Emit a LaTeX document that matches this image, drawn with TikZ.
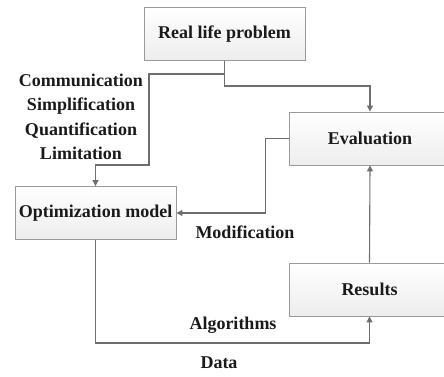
\documentclass[tikz,border=0pt]{standalone}
\usepackage{fontspec}
\setmainfont{Liberation Serif}
\usetikzlibrary{arrows.meta}
\definecolor{linegray}{HTML}{6E6E6E}
\definecolor{boxborder}{HTML}{9A9A9A}
\definecolor{txt}{HTML}{1A1A1A}
\begin{document}
\begin{tikzpicture}[x=1pt,y=-1pt,
  box/.style={draw=boxborder, line width=0.9pt, top color=white, bottom color=gray!14,
    minimum width=161pt, minimum height=53pt, inner sep=0pt, text=txt,
    font=\fontsize{18}{22}\selectfont\bfseries},
  lbl/.style={text=txt, inner sep=0pt, align=center,
    font=\fontsize{18}{24.5}\selectfont\bfseries},
  conn/.style={draw=linegray, line width=1.1pt,
    -{Triangle[width=6pt,length=6pt]}}]
\useasboundingbox (0,0) rectangle (444,376);
\begin{scope}
\clip (0,0) rectangle (444,376);
\node[box] (rlp) at (224.5,34) {Real life problem};
\node[box] (eval) at (370,138.5) {Evaluation};
\node[box] (opt) at (95.5,213) {Optimization model};
\node[box] (res) at (369.5,289.5) {Results};
\end{scope}
\coordinate (split) at (225,74);
\draw[conn] (rlp.south) -- ++(0,25) -| (eval.north);
\draw[conn] (split) -- (149,74) -- (149,165) -| (opt.north);
\draw[conn] (eval.west) -- ++(-24,0) |- (opt.east);
\draw[conn] (res.north) -- (eval.south);
\draw[conn] (opt.south) -- ++(0,103) -| (res.south);
\node[lbl] (c1) at (81,117) {Communication\\Simplification\\Quantification\\Limitation};
\node[lbl] (mod) at (245,232) {Modification};
\node[lbl] (alg) at (233,325) {Algorithms};
\node[lbl] (dat) at (219,363) {Data};
\end{tikzpicture}
\end{document}
